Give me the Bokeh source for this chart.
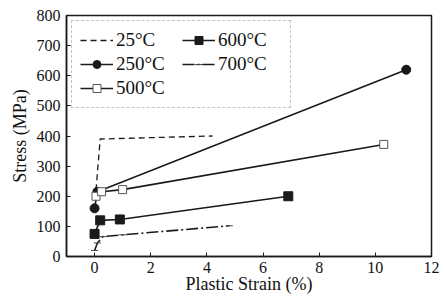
from bokeh.plotting import figure
from bokeh.models import Range1d, SingleIntervalTicker
from bokeh.embed import file_html
from bokeh.resources import INLINE

# ---- data ----
x25 = [0.05, 0.2, 4.2]
y25 = [220, 390, 400]

x250 = [0.0, 0.1, 11.1]
y250 = [160, 215, 620]

x500 = [0.05, 0.25, 1.0, 10.3]
y500 = [200, 215, 222, 372]

x600 = [0.0, 0.2, 0.9, 6.9]
y600 = [75, 120, 123, 200]

x700 = [0.0, 0.1, 0.3, 1.0, 4.8]
y700 = [20, 45, 66, 72, 102]

labels = ["25°C", "250°C", "500°C", "600°C", "700°C"]
x_label = "Plastic Strain (%)"
y_label = "Stress (MPa)"

FONT = "Liberation Serif"
INK = "#1a1a1a"

p = figure(width=444, height=296, x_range=Range1d(-1, 12), y_range=Range1d(0, 800),
           output_backend="svg", toolbar_location=None,
           min_border_left=66, min_border_top=15, min_border_right=13, min_border_bottom=40)

p.xgrid.visible = False
p.ygrid.visible = False
p.outline_line_color = INK
p.outline_line_width = 1.5
p.background_fill_color = "white"
p.border_fill_color = "white"

# 25°C dashed
p.line(x25, y25, line_color=INK, line_width=1.3, line_dash="6 4", legend_label=labels[0])
# 250°C circles
p.line(x250, y250, line_color=INK, line_width=1.6, legend_label=labels[1])
p.scatter(x250, y250, marker="circle", size=9, fill_color=INK, line_color=INK, legend_label=labels[1])
# 500°C open squares
p.line(x500, y500, line_color=INK, line_width=1.6, legend_label=labels[2])
p.scatter(x500, y500, marker="square", size=8, fill_color="white", line_color="#555555",
          line_width=1, legend_label=labels[2])
# 600°C filled squares
p.line(x600, y600, line_color=INK, line_width=1.6, legend_label=labels[3])
p.scatter(x600, y600, marker="square", size=9, fill_color=INK, line_color=INK, legend_label=labels[3])
# 700°C
p.line(x700, y700, line_color=INK, line_width=1.6, line_dash="12 3 2 3", legend_label=labels[4])
p.scatter(x700, y700, marker="dash", size=7, line_color="#444444", line_width=1, legend_label=labels[4])

# axes
for ax in (p.xaxis[0], p.yaxis[0]):
    ax.axis_line_color = INK
    ax.axis_line_width = 1.5
    ax.major_tick_in = 4
    ax.major_tick_out = 0
    ax.minor_tick_in = 0
    ax.minor_tick_out = 0
    ax.major_tick_line_color = INK
    ax.major_label_text_font = FONT
    ax.major_label_text_font_size = "16px"
    ax.major_label_text_color = "#111111"
    ax.axis_label_text_font = FONT
    ax.axis_label_text_font_size = "18px"
    ax.axis_label_text_font_style = "normal"
    ax.axis_label_text_color = "#111111"

p.xaxis.ticker = SingleIntervalTicker(interval=2)
p.yaxis.ticker = SingleIntervalTicker(interval=100)
p.xaxis.axis_label = x_label
p.yaxis.axis_label = y_label
p.xaxis.major_label_standoff = 5
p.xaxis.axis_label_standoff = -2
p.yaxis.major_label_standoff = 6
p.yaxis.axis_label_standoff = 4

# legend
lg = p.legend[0]
lg.location = "top_left"
lg.margin = 5
lg.ncols = 2
lg.orientation = "vertical"
lg.label_text_font = FONT
lg.label_text_font_size = "19px"
lg.label_text_color = "#111111"
lg.glyph_width = 33
lg.glyph_height = 20
lg.label_standoff = 3
lg.label_width = 64
lg.label_height = 20
lg.spacing = 2
lg.padding = 8
lg.border_line_color = "#888888"
lg.border_line_dash = "5 3"
lg.border_line_width = 1
lg.background_fill_alpha = 0

open("out.html", "w").write(file_html(p, INLINE))
